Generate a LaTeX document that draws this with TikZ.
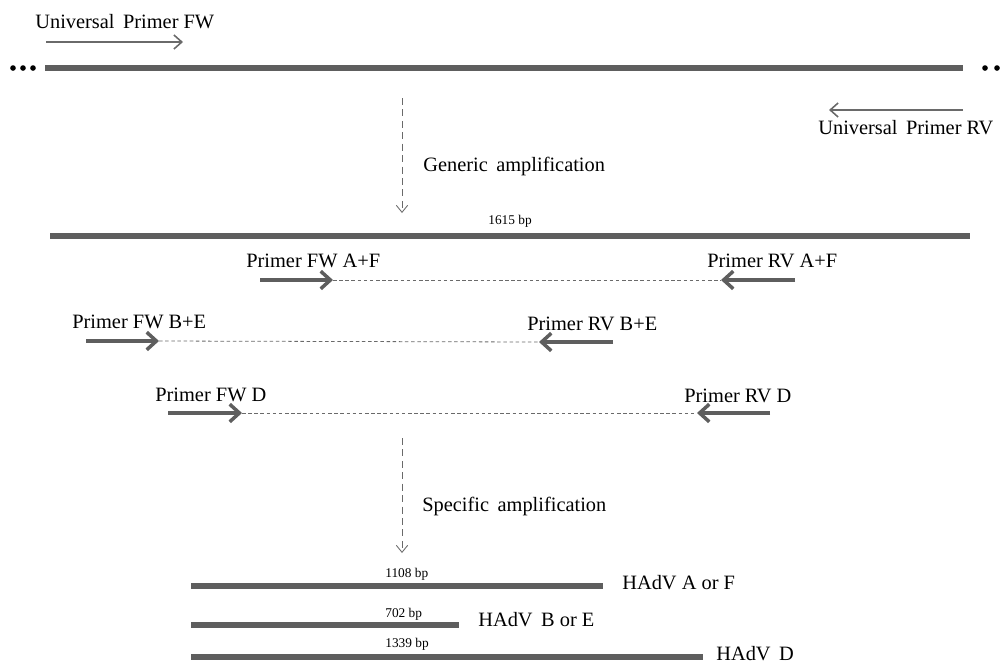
\documentclass[tikz,border=0pt]{standalone}
\usepackage{fontspec}
\setmainfont{Liberation Serif}
\usepackage{tikz}
\usetikzlibrary{arrows.meta,positioning}

\definecolor{bargray}{HTML}{5E5E5E}
\definecolor{arrgray}{HTML}{6A6A6A}

\begin{document}
\begin{tikzpicture}[
  x=0.02cm, y=-0.02cm,
  lbl/.style={anchor=base west,inner sep=0pt,font=\fontsize{11.6}{13}\selectfont},
  bp/.style={anchor=base west,inner sep=0pt,font=\fontsize{7.6}{9}\selectfont},
  dna/.style={line width=3.4pt,draw=bargray},
  amplicon/.style={line width=3pt,draw=bargray},
  uprimer/.style={-{Straight Barb[length=4.5pt,width=8pt]},line width=0.9pt,draw=arrgray},
  sprimer/.style={-{Straight Barb[length=5.5pt,width=10pt,line width=2pt]},line width=2.3pt,draw=bargray},
  gap/.style={draw=arrgray,line width=0.45pt,dash pattern=on 2pt off 1.5pt},
  step arrow/.style={-{Straight Barb[length=4pt,width=6.5pt]},draw=arrgray,line width=0.5pt,dash pattern=on 4pt off 2.5pt},
  dot/.style={circle,fill=black,inner sep=0pt,minimum size=3.2pt}
]
\useasboundingbox (0,0) rectangle (1004,664);

% genomic template
\node[dot] (d1) at (13,68) {};
\node[dot] (d2) at (23,68) {};
\node[dot] (d3) at (33,68) {};
\node[dot] (d4) at (985,68) {};
\node[dot] (d5) at (997,68) {};
\coordinate (g0) at (45,68);
\coordinate (g1) at (963,68);
\draw[dna] (g0) -- (g1);

\node[lbl] (ufw) at (35,28) {Universal\, Primer FW};
\coordinate (ufw0) at (46,42);
\coordinate (ufw1) at (183,42);
\draw[uprimer] (ufw0) -- (ufw1);

\coordinate (urv0) at (963,110);
\coordinate (urv1) at (829,110);
\draw[uprimer] (urv0) -- (urv1);
\node[lbl] (urv) at (818,134) {Universal\, Primer RV};

% generic step
\coordinate (s0) at (402,98);
\coordinate (s1) at (402,213);
\draw[step arrow] (s0) -- (s1);
\node[lbl] (gen) at (423,171) {Generic\, amplification};

\node[bp] (p1615) at (488,224) {1615 bp};
\coordinate (a0) at (50,236);
\coordinate (a1) at (970,236);
\draw[dna] (a0) -- (a1);

% specific primers
\node[lbl] (fwaf) at (246,267) {Primer FW A+F};
\coordinate (fa0) at (260,280);
\coordinate (fa1) at (333,280);
\coordinate (ra0) at (795,280);
\coordinate (ra1) at (721,280);
\draw[sprimer] (fa0) -- (fa1);
\draw[gap] (fa1) -- (ra1);
\draw[sprimer] (ra0) -- (ra1);
\node[lbl] (rvaf) at (707,267) {Primer RV A+F};

\node[lbl] (fwbe) at (72,328) {Primer FW B+E};
\coordinate (fb0) at (86,341);
\coordinate (fb1) at (159,341);
\coordinate (rb0) at (613,342);
\coordinate (rb1) at (539,342);
\draw[sprimer] (fb0) -- (fb1);
\draw[gap] (fb1) -- (rb1);
\draw[sprimer] (rb0) -- (rb1);
\node[lbl] (rvbe) at (527,330) {Primer RV B+E};

\node[lbl] (fwd) at (155,401) {Primer FW D};
\coordinate (fd0) at (168,413);
\coordinate (fd1) at (242,413);
\coordinate (rd0) at (770,413);
\coordinate (rd1) at (697,413);
\draw[sprimer] (fd0) -- (fd1);
\draw[gap] (fd1) -- (rd1);
\draw[sprimer] (rd0) -- (rd1);
\node[lbl] (rvd) at (684,402) {Primer RV D};

% specific step
\coordinate (t0) at (402,438);
\coordinate (t1) at (402,553);
\draw[step arrow] (t0) -- (t1);
\node[lbl] (spec) at (422,511) {Specific\, amplification};

% amplicons
\node[bp] (p1108) at (385,577) {1108 bp};
\coordinate (b0) at (191,586);
\coordinate (b1) at (603,586);
\draw[amplicon] (b0) -- (b1);
\node[lbl] (haf) at (622,589) {HAdV A or F};

\node[bp] (p702) at (385,617) {702 bp};
\coordinate (c0) at (191,625);
\coordinate (c1) at (459,625);
\draw[amplicon] (c0) -- (c1);
\node[lbl] (hbe) at (478,626) {HAdV\, B or E};

\node[bp] (p1339) at (385,647) {1339 bp};
\coordinate (e0) at (191,657);
\coordinate (e1) at (703,657);
\draw[amplicon] (e0) -- (e1);
\node[lbl] (hd) at (716,660) {HAdV\, D};
\end{tikzpicture}
\end{document}
